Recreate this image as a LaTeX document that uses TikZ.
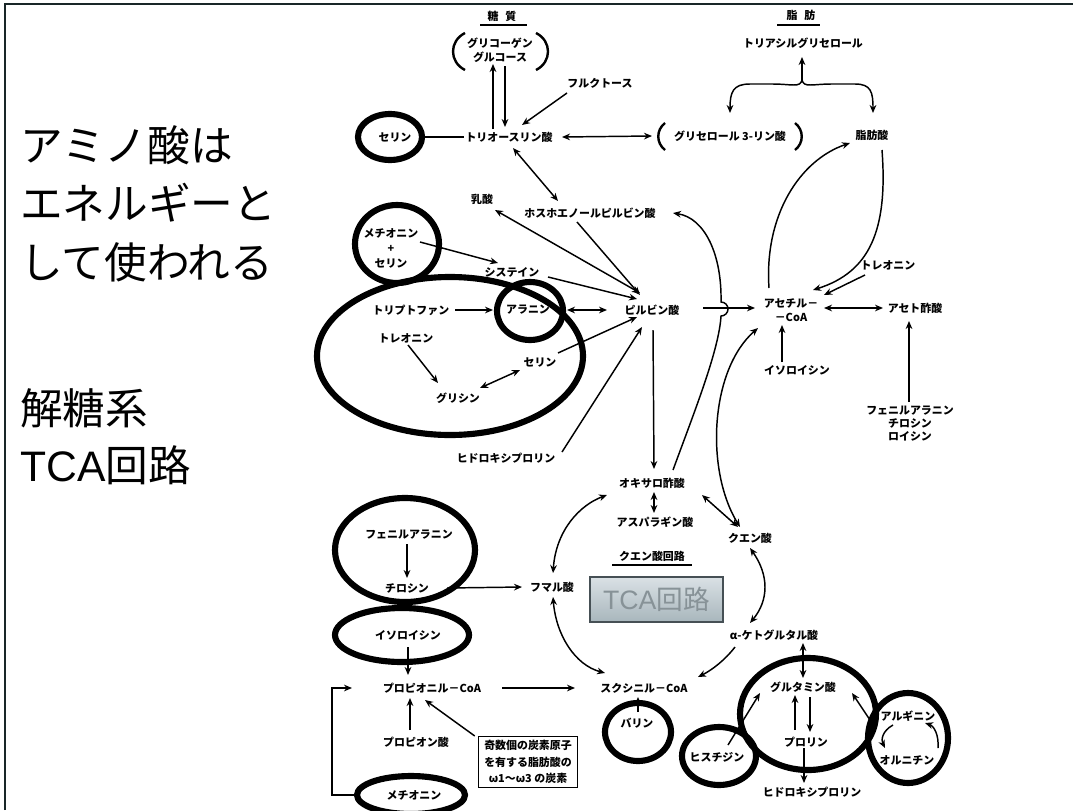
\documentclass[tikz,border=0pt]{standalone}
\usepackage{fontspec}
\newfontfamily\jp{Noto Sans CJK JP}
\newfontfamily\lat{Liberation Sans}
\usetikzlibrary{arrows.meta,calc,shapes.geometric}
\def\px{0.75pt}
\definecolor{tcatop}{RGB}{218,225,229}
\definecolor{tcabot}{RGB}{168,182,188}
\definecolor{tcatext}{RGB}{135,146,151}
\definecolor{tcaborder}{RGB}{70,80,85}
\definecolor{framec}{RGB}{25,38,40}
\begin{document}
\begin{tikzpicture}[x=0.75pt,y=-0.75pt,
  lbl/.style={font=\jp\bfseries\fontsize{8.2}{10.5}\selectfont, inner sep=1pt, align=center},
  title/.style={font=\jp\fontsize{32}{32}\selectfont, anchor=west, inner sep=0pt},
  ring/.style={draw, line width=4.6pt, ellipse, inner sep=0pt},
  conn/.style={line width=1.1pt},
  arr/.style={conn, -{Stealth[length=6pt,width=5pt]}},
  darr/.style={conn, {Stealth[length=6pt,width=5pt]}-{Stealth[length=6pt,width=5pt]}},
  paren/.style={line width=1.8pt},
  uline/.style={line width=1.1pt}]
\useasboundingbox (0,0) rectangle (1073,810);
\fill[white] (0,0) rectangle (1073,810);
\draw[framec, line width=2.2pt] (5,810) -- (5,4) -- (1073,4);

% left titles
\node[title] (t1) at (20,145) {アミノ酸は};
\node[title] (t2) at (20,203) {エネルギーと};
\node[title] (t3) at (20,262) {して使われる};
\node[title] (t4) at (20,408) {解糖系};
\node[title] (t5) at (20,465) {{\lat TCA}回路};

% rings (drawn first, text on top)
\node[ring, minimum width=64*\px, minimum height=46*\px] (ser1c) at (390,137) {};
\node[ring, minimum width=84*\px, minimum height=78*\px] (metserc) at (397,244) {};
\node[ring, minimum width=266*\px, minimum height=158*\px] (bigc) at (450,356) {};
\node[ring, minimum width=66*\px, minimum height=58*\px] (alac) at (530,311) {};
\node[ring, minimum width=140*\px, minimum height=104*\px] (phec) at (405,550) {};
\node[ring, minimum width=134*\px, minimum height=54*\px] (ile1c) at (402,635) {};
\node[ring, minimum width=108*\px, minimum height=38*\px] (metc) at (411,795) {};
\node[ring, minimum width=66*\px, minimum height=58*\px] (valc) at (638,732) {};
\node[ring, minimum width=136*\px, minimum height=112*\px] (gluc) at (808,714) {};
\node[ring, minimum width=74*\px, minimum height=58*\px] (hisc) at (719,756) {};
\node[ring, minimum width=80*\px, minimum height=90*\px] (argc) at (908,738) {};

% headings
\node[lbl] (toushitsu) at (502,16) {糖\hspace{5pt}質};
\draw[uline] ($(toushitsu)+(-22,9)$) -- ($(toushitsu)+(25,9)$);
\node[lbl] (shibou) at (801,15) {脂\hspace{5pt}肪};
\draw[uline] ($(shibou)+(-24,10)$) -- ($(shibou)+(19,10)$);

% labels
\node[lbl] (glyc) at (500,50) {グリコーゲン\\グルコース};
\node[lbl] (fru) at (600,83) {フルクトース};
\node[lbl] (ser1) at (395,137) {セリン};
\node[lbl] (tri) at (509,137) {トリオースリン酸};
\node[lbl] (g3p) at (730,136) {グリセロール 3-リン酸};
\node[lbl] (tag) at (803,43) {トリアシルグリセロール};
\node[lbl] (fa) at (872,135) {脂肪酸};
\node[lbl] (lac) at (482,199) {乳酸};
\node[lbl] (pep) at (590,213) {ホスホエノールピルビン酸};
\node[lbl, font=\jp\bfseries\fontsize{8.2}{11.2}\selectfont] (metser) at (391,248) {メチオニン\\+\\セリン};
\node[lbl] (cys) at (512,272) {システイン};
\node[lbl] (trp) at (411,310) {トリプトファン};
\node[lbl] (ala) at (528,310) {アラニン};
\node[lbl] (pyr) at (652,310) {ピルビン酸};
\node[lbl] (thr1) at (406,338) {トレオニン};
\node[lbl] (ser2) at (540,362) {セリン};
\node[lbl] (gly2) at (458,398) {グリシン};
\node[lbl] (hyp1) at (506,458) {ヒドロキシプロリン};
\node[lbl] (acoa) at (791,310) {アセチル－\\－CoA};
\node[lbl] (acac) at (915,308) {アセト酢酸};
\node[lbl] (thr2) at (888,265) {トレオニン};
\node[lbl] (ile2) at (797,370) {イソロイシン};
\node[lbl, font=\jp\bfseries\fontsize{8.2}{9.8}\selectfont] (phetyr) at (910,424) {フェニルアラニン\\チロシン\\ロイシン};
\node[lbl] (oaa) at (652,483) {オキサロ酢酸};
\node[lbl] (asp) at (655,522) {アスパラギン酸};
\node[lbl] (cit) at (750,538) {クエン酸};
\node[lbl] (tcah) at (652,556) {クエン酸回路};
\draw[uline] ($(tcah)+(-40,9)$) -- ($(tcah)+(40,9)$);
\node[draw=tcaborder, line width=1.3pt, top color=tcatop, bottom color=tcabot,
      minimum width=133*\px, minimum height=45*\px, text=tcatext,
      font=\jp\fontsize{20}{20}\selectfont] (tca) at (656.5,599.5) {{\lat TCA}回路};
\node[lbl] (fum) at (552,587) {フマル酸};
\node[lbl] (akg) at (774,635) {α-ケトグルタル酸};
\node[lbl] (phe) at (409,535) {フェニルアラニン};
\node[lbl] (tyr) at (407,588) {チロシン};
\node[lbl] (ile1) at (408,635) {イソロイシン};
\node[lbl] (prcoa) at (432,688) {プロピオニル－CoA};
\node[lbl] (sucoa) at (644,688) {スクシニル－CoA};
\node[lbl] (prop) at (416,742) {プロピオン酸};
\node[lbl, draw, line width=0.8pt, inner xsep=4.5pt, inner ysep=3pt,
      font=\jp\bfseries\fontsize{8.2}{12.2}\selectfont] (box) at (528,762) {奇数個の炭素原子\\を有する脂肪酸の\\ω1〜ω3 の炭素};
\node[lbl] (val) at (637,723) {バリン};
\node[lbl] (met) at (414,795) {メチオニン};
\node[lbl] (glu) at (803,687) {グルタミン酸};
\node[lbl] (pro) at (806,742) {プロリン};
\node[lbl] (hyp2) at (812,792) {ヒドロキシプロリン};
\node[lbl] (his) at (717,757) {ヒスチジン};
\node[lbl] (arg) at (908,716) {アルギニン};
\node[lbl] (orn) at (907,760) {オルニチン};

% parentheses
\draw[paren] ($(glyc)+(-35,-17)$) .. controls ($(glyc)+(-51,-9)$) and ($(glyc)+(-51,12)$) .. ($(glyc)+(-35,20)$);
\draw[paren] ($(glyc)+(36,-17)$) .. controls ($(glyc)+(52,-9)$) and ($(glyc)+(52,12)$) .. ($(glyc)+(36,20)$);
\draw[paren] ($(g3p)+(-65,-13)$) .. controls ($(g3p)+(-74,-6)$) and ($(g3p)+(-74,7)$) .. ($(g3p)+(-65,14)$);
\draw[paren] ($(g3p)+(65,-13)$) .. controls ($(g3p)+(74,-6)$) and ($(g3p)+(74,7)$) .. ($(g3p)+(65,14)$);

% brace to triacylglycerol
\coordinate (brc) at (802,80);
\draw[arr] (brc) -- ($(tag)+(-1,14)$);
\draw[arr] (brc) .. controls (800,88) and (792,84) .. (772,84) -- (750,84) .. controls (733,84) and (730,92) .. ($(g3p)+(0,-23)$);
\draw[arr] (brc) .. controls (804,88) and (812,84) .. (832,84) -- (855,84) .. controls (871,84) and (873,92) .. ($(fa)+(1,-22)$);

% connectors, top part
\draw[conn] (ser1c.east) -- ($(tri)+(-45,0)$);
\draw[arr] ($(tri)+(-16,-8)$) -- ($(glyc)+(-7,14)$);
\draw[arr] ($(glyc)+(5,16)$) -- ($(tri)+(-4,-10)$);
\draw[arr] ($(fru)+(-33,10)$) -- ($(tri)+(13,-12)$);
\draw[darr] ($(tri)+(53,0)$) -- ($(g3p)+(-78,0)$);
\draw[darr] ($(tri)+(4,11)$) -- ($(pep)+(-32,-12)$);
\draw[darr] ($(lac)+(13,11)$) -- ($(pyr)+(-12,-17)$);
\draw[arr] ($(pep)+(-13,9)$) -- ($(pyr)+(-12,-15)$);
\draw[arr] ($(metser)+(29,-6)$) -- ($(cys)+(-14,-9)$);
\draw[arr] ($(cys)+(36,5)$) -- ($(pyr)+(-15,-11)$);
\draw[arr] ($(trp)+(44,0)$) -- ($(ala)+(-35,0)$);
\draw[darr] ($(ala)+(39,0)$) -- ($(pyr)+(-45,0)$);
\draw[arr] ($(thr1)+(2,7)$) -- ($(gly2)+(-20,-15)$);
\draw[darr] ($(gly2)+(22,-10)$) -- ($(ser2)+(-20,8)$);
\draw[arr] ($(ser2)+(18,-9)$) -- ($(pyr)+(-15,7)$);
\draw[arr] ($(hyp1)+(56,-6)$) -- ($(pyr)+(-10,17)$);
\draw[arr] ($(pyr)+(1,20)$) -- ($(oaa)+(2,-14)$);
\draw[arr] ($(pyr)+(51,-2)$) -- ($(acoa)+(-36,-2)$);

% oxaloacetate -> PEP with hop over the pyruvate arrow
\draw[arr] ($(oaa)+(21,-13)$) .. controls (695,410) and (719,350) .. (721,316)
   arc[start angle=90, end angle=-90, radius=7]
   .. controls (722,255) and (705,218) .. ($(pep)+(83,0)$);

% acetyl-CoA / fatty acid
\draw[arr] ($(acoa)+(-22,-22)$) .. controls (764,215) and (800,160) .. ($(fa)+(-22,8)$);
\draw[arr] ($(fa)+(10,15)$) .. controls (888,230) and (870,272) .. ($(acoa)+(22,-20)$);
\draw[arr] ($(thr2)+(-23,10)$) -- ($(acoa)+(33,-15)$);
\draw[darr] ($(acoa)+(33,-2)$) -- ($(acac)+(-32,0)$);
\draw[arr] ($(ile2)+(-15,-8)$) -- ($(acoa)+(-9,15)$);
\draw[arr] ($(phetyr)+(-1,-22)$) -- ($(acac)+(-6,13)$);
\draw[darr] ($(cit)+(-10,-11)$) .. controls (705,470) and (710,370) .. ($(acoa)+(-33,18)$);

% TCA cycle
\draw[darr] ($(oaa)+(2,9)$) -- ($(asp)+(-1,-9)$);
\draw[darr] ($(oaa)+(50,12)$) -- ($(cit)+(-12,-11)$);
\draw[darr] ($(cit)+(0,10)$) .. controls (769,575) and (769,600) .. ($(akg)+(-24,-12)$);
\draw[arr] ($(akg)+(-39,12)$) .. controls (725,660) and (712,670) .. ($(sucoa)+(54,-11)$);
\draw[darr] ($(sucoa)+(-39,-15)$) .. controls (575,665) and (556,635) .. ($(fum)+(1,10)$);
\draw[darr] ($(fum)+(1,-14)$) .. controls (556,530) and (580,505) .. ($(oaa)+(-45,12)$);

% lower left
\draw[arr] ($(tyr)+(40,0)$) -- ($(fum)+(-30,0)$);
\draw[arr] ($(phe)+(-2,9)$) -- ($(tyr)+(0,-10)$);
\draw[arr] ($(ile1)+(0,12)$) -- ($(prcoa)+(-24,-13)$);
\draw[arr] ($(prcoa)+(70,0)$) -- ($(sucoa)+(-69,0)$);
\draw[arr] ($(prop)+(-6,-12)$) -- ($(prcoa)+(-22,10)$);
\draw[arr] ($(box.north west)+(-3,0)$) -- ($(prcoa)+(-7,12)$);
\draw[arr] ($(valc)+(0,-20)$) -- ($(sucoa)+(-6,9)$);
\draw[arr] (metc.west) -- ++(-22,0) |- ($(prcoa)+(-80,0)$);

% glutamate group
\draw[darr] ($(akg)+(29,8)$) -- ($(glu)+(0,-9)$);
\draw[arr] ($(pro)+(-11,-12)$) -- ($(glu)+(-8,8)$);
\draw[arr] ($(glu)+(7,10)$) -- ($(pro)+(4,-10)$);
\draw[arr] ($(pro)+(-2,6)$) -- ($(hyp2)+(-8,-9)$);
\draw[arr] ($(his)+(11,-12)$) -- ($(glu)+(-43,6)$);
\draw[arr] ($(argc)+(-36,-15)$) -- ($(glu)+(49,6)$);
\draw[arr] ($(arg)+(-15,9)$) .. controls (882,731) and (881,740) .. ($(orn)+(-22,-12)$);
\draw[arr] ($(orn)+(31,-12)$) .. controls (939,735) and (934,726) .. ($(arg)+(17,7)$);
\end{tikzpicture}
\end{document}
